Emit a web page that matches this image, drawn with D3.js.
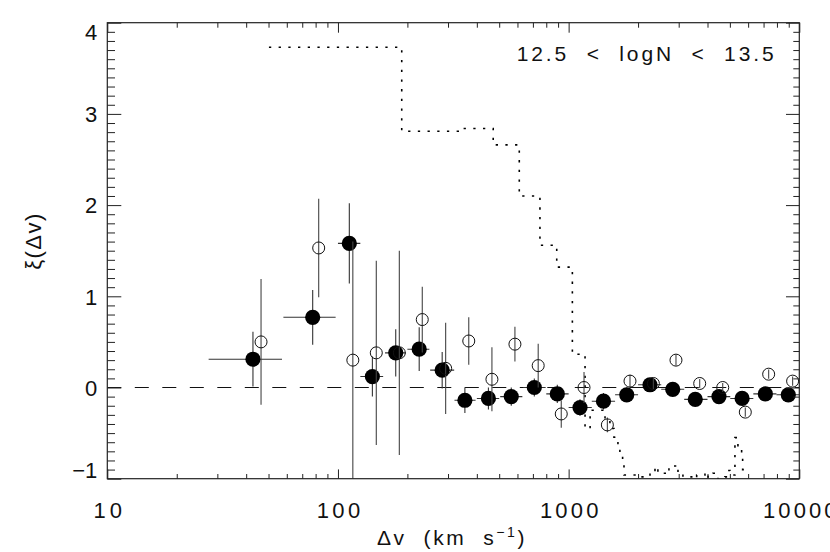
<!DOCTYPE html>
<html>
<head>
<meta charset="utf-8">
<script src="https://cdn.jsdelivr.net/npm/d3@7"></script>
<style>
  html, body { margin: 0; padding: 0; background: #fff; }
  svg { display: block; font-family: "Liberation Sans", "DejaVu Sans", sans-serif; }
</style>
</head>
<body>
<div id="chart"></div>
<script>
// velocity bins, filled points (km/s)
const filledV  = [42.8, 77.7, 112, 141, 178, 225, 283, 355, 449, 564, 710, 893, 1120, 1416, 1786, 2253, 2827, 3540, 4485, 5650, 7126, 8960];
const filledLo = [27.5, 58, 100, 125, 160, 200, 251, 320, 400, 505, 635, 800, 1000, 1260, 1590, 2000, 2520, 3170, 4000, 5020, 6320, 7960];
const filledHi = [57.2, 97.7, 125, 157, 197, 249, 319, 395, 500, 630, 795, 1000, 1260, 1590, 2000, 2520, 3170, 4000, 5020, 6320, 7960, 10000];
const filledXi = [0.31, 0.77, 1.58, 0.12, 0.38, 0.42, 0.19, -0.14, -0.12, -0.10, 0.00, -0.07, -0.22, -0.15, -0.08, 0.03, -0.02, -0.13, -0.10, -0.12, -0.07, -0.08];
const filledErr = [0.30, 0.30, 0.44, 0.22, 0.26, 0.24, 0.20, 0.14, 0.12, 0.10, 0.10, 0.10, 0.09, 0.09, 0.08, 0.07, 0.07, 0.07, 0.07, 0.07, 0.07, 0.07];

// open points
const openV   = [46.4, 82.5, 116, 146.6, 184.5, 232, 293, 369, 465, 585, 738, 929, 1166, 1472, 1845, 2330, 2920, 3700, 4656, 5833, 7365, 9355];
const openXi  = [0.50, 1.53, 0.30, 0.38, 0.38, 0.745, 0.21, 0.51, 0.09, 0.475, 0.24, -0.29, 0.00, -0.41, 0.07, 0.044, 0.30, 0.044, 0.00, -0.27, 0.146, 0.07];
const openErr = [0.69, 0.54, 1.30, 1.01, 1.12, 0.36, 0.50, 0.26, 0.35, 0.19, 0.24, 0.15, 0.17, 0.08, 0.07, 0.06, 0.06, 0.05, 0.05, 0.05, 0.05, 0.05];

// dotted step histogram: left bin edges and values, plus final edge
const histEdges = [50.2, 189, 332, 471, 611, 751, 888, 1038, 1178, 1239, 1438, 1510, 1572, 1636, 1668, 1714, 1738,
                   2000, 2163, 2253, 2368, 2438, 2660, 2722, 2940, 2979, 3130, 3415, 3590, 3900, 4018, 4225, 4440,
                   4760, 4910, 5010, 5260, 5420, 5623, 5680];
const histVals  = [3.73, 2.81, 2.84, 2.66, 2.10, 1.56, 1.32, 0.365, -0.45, -0.25, -0.34, -0.45, -0.545, -0.65, -0.75, -0.86, -0.96,
                   -0.98, -0.96, -0.92, -0.87, -0.94, -0.95, -0.86, -0.85, -0.94, -0.98, -1.0, -0.96, -0.93, -0.98, -0.94, -1.0,
                   -0.98, -0.91, -0.96, -0.55, -0.65, -0.76, -0.90];
const histEnd = 5820;

const xMajor = [10, 100, 1000, 10000];
const yMajor = [-1, 0, 1, 2, 3, 4];
const panelLabel = '12.5  <  logN  <  13.5';

const W = 830, H = 552;
const pLeft = 107.3, pRight = 799.3, pTop = 22.7, pBottom = 478.7;

const svg = d3.select('#chart').append('svg')
  .attr('width', W)
  .attr('height', H);

const x = d3.scaleLog().domain([10, 10000]).range([pLeft, pRight]);
const y = d3.scaleLinear().domain([-1, 4]).range([pBottom, pTop]);

svg.append('clipPath').attr('id', 'plot-clip')
  .append('rect')
  .attr('x', pLeft).attr('y', pTop)
  .attr('width', pRight - pLeft).attr('height', pBottom - pTop);

const plot = svg.append('g').attr('clip-path', 'url(#plot-clip)');

// zero line
plot.append('line')
  .attr('x1', x(10)).attr('x2', x(10000))
  .attr('y1', y(0)).attr('y2', y(0))
  .attr('stroke', '#111').attr('stroke-width', 1)
  .attr('stroke-dasharray', '14,13.5');

// dotted histogram
const histPts = histEdges.map((e, i) => [e, histVals[i]]);
histPts.push([histEnd, histVals[histVals.length - 1]]);
plot.append('path')
  .attr('d', d3.line().x(d => x(d[0])).y(d => y(d[1])).curve(d3.curveStepAfter)(histPts))
  .attr('fill', 'none')
  .attr('stroke', '#000')
  .attr('stroke-width', 1.6)
  .attr('stroke-dasharray', '2.3,7.4');

// filled points with error bars
const filled = filledV.map((v, i) => ({ v, lo: filledLo[i], hi: filledHi[i], xi: filledXi[i], err: filledErr[i] }));
const open = openV.map((v, i) => ({ v, xi: openXi[i], err: openErr[i] }));

const fBars = plot.append('g').attr('stroke', '#333').attr('stroke-width', 1.1);
fBars.selectAll('line.h').data(filled).enter().append('line').attr('class', 'h')
  .attr('x1', d => x(d.lo)).attr('x2', d => x(d.hi))
  .attr('y1', d => y(d.xi)).attr('y2', d => y(d.xi));
fBars.selectAll('line.v').data(filled).enter().append('line').attr('class', 'v')
  .attr('x1', d => x(d.v)).attr('x2', d => x(d.v))
  .attr('y1', d => y(d.xi - d.err)).attr('y2', d => y(d.xi + d.err));

plot.append('g').selectAll('circle').data(filled).enter().append('circle')
  .attr('cx', d => x(d.v)).attr('cy', d => y(d.xi))
  .attr('r', 7.6).attr('fill', '#000');

// open points
plot.append('g').attr('stroke', '#444').attr('stroke-width', 1.1)
  .selectAll('line').data(open).enter().append('line')
  .attr('x1', d => x(d.v)).attr('x2', d => x(d.v))
  .attr('y1', d => y(d.xi - d.err)).attr('y2', d => y(d.xi + d.err));

plot.append('g').selectAll('circle').data(open).enter().append('circle')
  .attr('cx', d => x(d.v)).attr('cy', d => y(d.xi))
  .attr('r', 6).attr('fill', 'none')
  .attr('stroke', '#111').attr('stroke-width', 1);

// axes: ticks pointing inward on all four sides
const xMinor = x.ticks().filter(t => !xMajor.includes(t));
const yMinor = d3.range(-10, 41).map(k => k / 10).filter(t => !yMajor.includes(t));

function tickStyle(g) {
  g.select('.domain').remove();
  g.selectAll('.tick line').attr('stroke', '#222').attr('stroke-width', 1);
}

svg.append('g').attr('transform', `translate(0,${pBottom})`)
  .call(d3.axisBottom(x).tickValues(xMinor).tickSize(-4.7).tickFormat(''))
  .call(tickStyle);
svg.append('g').attr('transform', `translate(0,${pTop})`)
  .call(d3.axisTop(x).tickValues(xMinor).tickSize(-5).tickFormat(''))
  .call(tickStyle);
svg.append('g').attr('transform', `translate(0,${pTop})`)
  .call(d3.axisTop(x).tickValues(xMajor).tickSize(-10).tickFormat(''))
  .call(tickStyle);

const xAxis = svg.append('g').attr('transform', `translate(0,${pBottom})`)
  .call(d3.axisBottom(x).tickValues(xMajor).tickSize(-9.3).tickPadding(24).tickFormat(d3.format('d')))
  .call(tickStyle);
xAxis.selectAll('.tick text')
  .attr('fill', '#111').attr('font-size', 22)
  .attr('textLength', d => String(d).length * 15 - 1.5)
  .attr('lengthAdjust', 'spacing');

svg.append('g').attr('transform', `translate(${pLeft},0)`)
  .call(d3.axisLeft(y).tickValues(yMinor).tickSize(-7.7).tickFormat(''))
  .call(tickStyle);
svg.append('g').attr('transform', `translate(${pRight},0)`)
  .call(d3.axisRight(y).tickValues(yMinor).tickSize(-6).tickFormat(''))
  .call(tickStyle);
svg.append('g').attr('transform', `translate(${pRight},0)`)
  .call(d3.axisRight(y).tickValues(yMajor).tickSize(-13.3).tickFormat(''))
  .call(tickStyle);

const yAxis = svg.append('g').attr('transform', `translate(${pLeft},0)`)
  .call(d3.axisLeft(y).tickValues(yMajor).tickSize(-14).tickFormat(d3.format('d')))
  .call(tickStyle);
yAxis.selectAll('.tick text')
  .attr('fill', '#111').attr('font-size', 22)
  .attr('x', -10)
  .attr('dy', d => d === 4 ? '0.75em' : d === -1 ? '-0.05em' : '0.35em');

// frame
svg.append('rect')
  .attr('x', pLeft).attr('y', pTop)
  .attr('width', pRight - pLeft).attr('height', pBottom - pTop)
  .attr('fill', 'none').attr('stroke', '#222').attr('stroke-width', 1.2);

// labels
svg.append('text')
  .attr('x', 516.7).attr('y', 61)
  .attr('font-size', 21).attr('fill', '#111')
  .attr('xml:space', 'preserve')
  .style('white-space', 'pre')
  .attr('textLength', 257).attr('lengthAdjust', 'spacing')
  .text(panelLabel);

const xt = svg.append('text')
  .attr('x', 452).attr('y', 545)
  .attr('text-anchor', 'middle')
  .attr('font-size', 21).attr('fill', '#111')
  .attr('letter-spacing', 2.6)
  .style('white-space', 'pre');
xt.append('tspan').text('Δv  (km  s');
xt.append('tspan').attr('font-size', 14).attr('dy', -8).text('−1');
xt.append('tspan').attr('dy', 8).text(')');

svg.append('text')
  .attr('transform', 'translate(41,241) rotate(-90)')
  .attr('text-anchor', 'middle')
  .attr('font-size', 22).attr('fill', '#111')
  .attr('letter-spacing', 1.5)
  .text('ξ(Δv)');
</script>
</body>
</html>
